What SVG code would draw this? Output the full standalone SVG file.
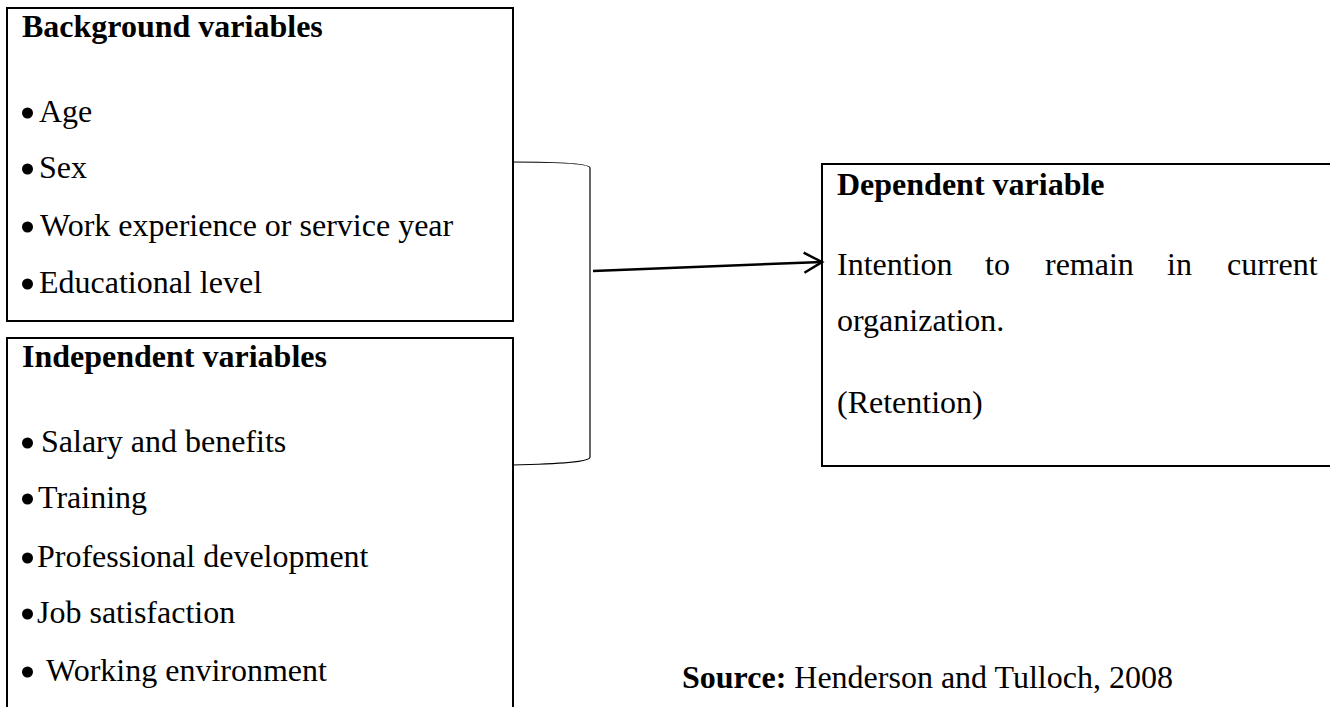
<svg xmlns="http://www.w3.org/2000/svg" width="1330" height="707" viewBox="0 0 1330 707">
<defs>
<style>
.box{fill:none;stroke:#000;stroke-width:2}
.t{font-family:"Liberation Serif","Times New Roman",serif;font-size:32px;fill:#000}
.b{font-weight:bold}
.dot{fill:#000}
.br{fill:none;stroke:#000;stroke-width:1.2}
.ar{fill:none;stroke:#000;stroke-width:2.5}
</style>
<marker id="arrow" markerUnits="userSpaceOnUse" markerWidth="24" markerHeight="26" refX="19" refY="12" orient="auto" viewBox="0 0 24 24">
<path d="M1,2 L19,12 L1,22" fill="none" stroke="#000" stroke-width="2.5"/>
</marker>
</defs>
<rect width="1330" height="707" fill="#fff"/>
<g id="background-variables">
<rect class="box" x="7" y="8" width="506" height="313"/>
<text class="t b" x="22" y="37">Background variables</text>
<circle class="dot" cx="27.5" cy="113" r="5.5"/>
<text class="t" x="39" y="122">Age</text>
<circle class="dot" cx="27.5" cy="169" r="5.5"/>
<text class="t" x="39" y="178">Sex</text>
<circle class="dot" cx="27.5" cy="227" r="5.5"/>
<text class="t" x="40" y="236">Work experience or service year</text>
<circle class="dot" cx="27.5" cy="284" r="5.5"/>
<text class="t" x="39" y="293">Educational level</text>
</g>
<g id="independent-variables">
<rect class="box" x="7" y="338" width="506" height="380"/>
<text class="t b" x="22" y="367">Independent variables</text>
<circle class="dot" cx="27.5" cy="443" r="5.5"/>
<text class="t" x="41" y="452">Salary and benefits</text>
<circle class="dot" cx="27.5" cy="499" r="5.5"/>
<text class="t" x="38" y="508">Training</text>
<circle class="dot" cx="27.5" cy="558" r="5.5"/>
<text class="t" x="37" y="567">Professional development</text>
<circle class="dot" cx="27.5" cy="614" r="5.5"/>
<text class="t" x="37" y="623">Job satisfaction</text>
<circle class="dot" cx="27.5" cy="672" r="5.5"/>
<text class="t" x="46" y="681">Working environment</text>
</g>
<g id="dependent-variable">
<rect class="box" x="822" y="164" width="520" height="302"/>
<text class="t b" x="837" y="195">Dependent variable</text>
<text class="t" y="275"><tspan x="837">Intention</tspan><tspan x="985">to</tspan><tspan x="1045">remain</tspan><tspan x="1167">in</tspan><tspan x="1227">current</tspan></text>
<text class="t" x="837" y="331">organization.</text>
<text class="t" x="837" y="413">(Retention)</text>
</g>
<g id="source">
<text class="t" x="682" y="688"><tspan class="b">Source:</tspan> Henderson and Tulloch, 2008</text>
</g>
<g id="connectors">
<path class="br" d="M512,162 C560,162 590,164 590,168 L590,457 C590,462 560,464 512,465"/>
<line class="ar" x1="593" y1="271" x2="822" y2="262" marker-end="url(#arrow)"/>
</g>
</svg>
